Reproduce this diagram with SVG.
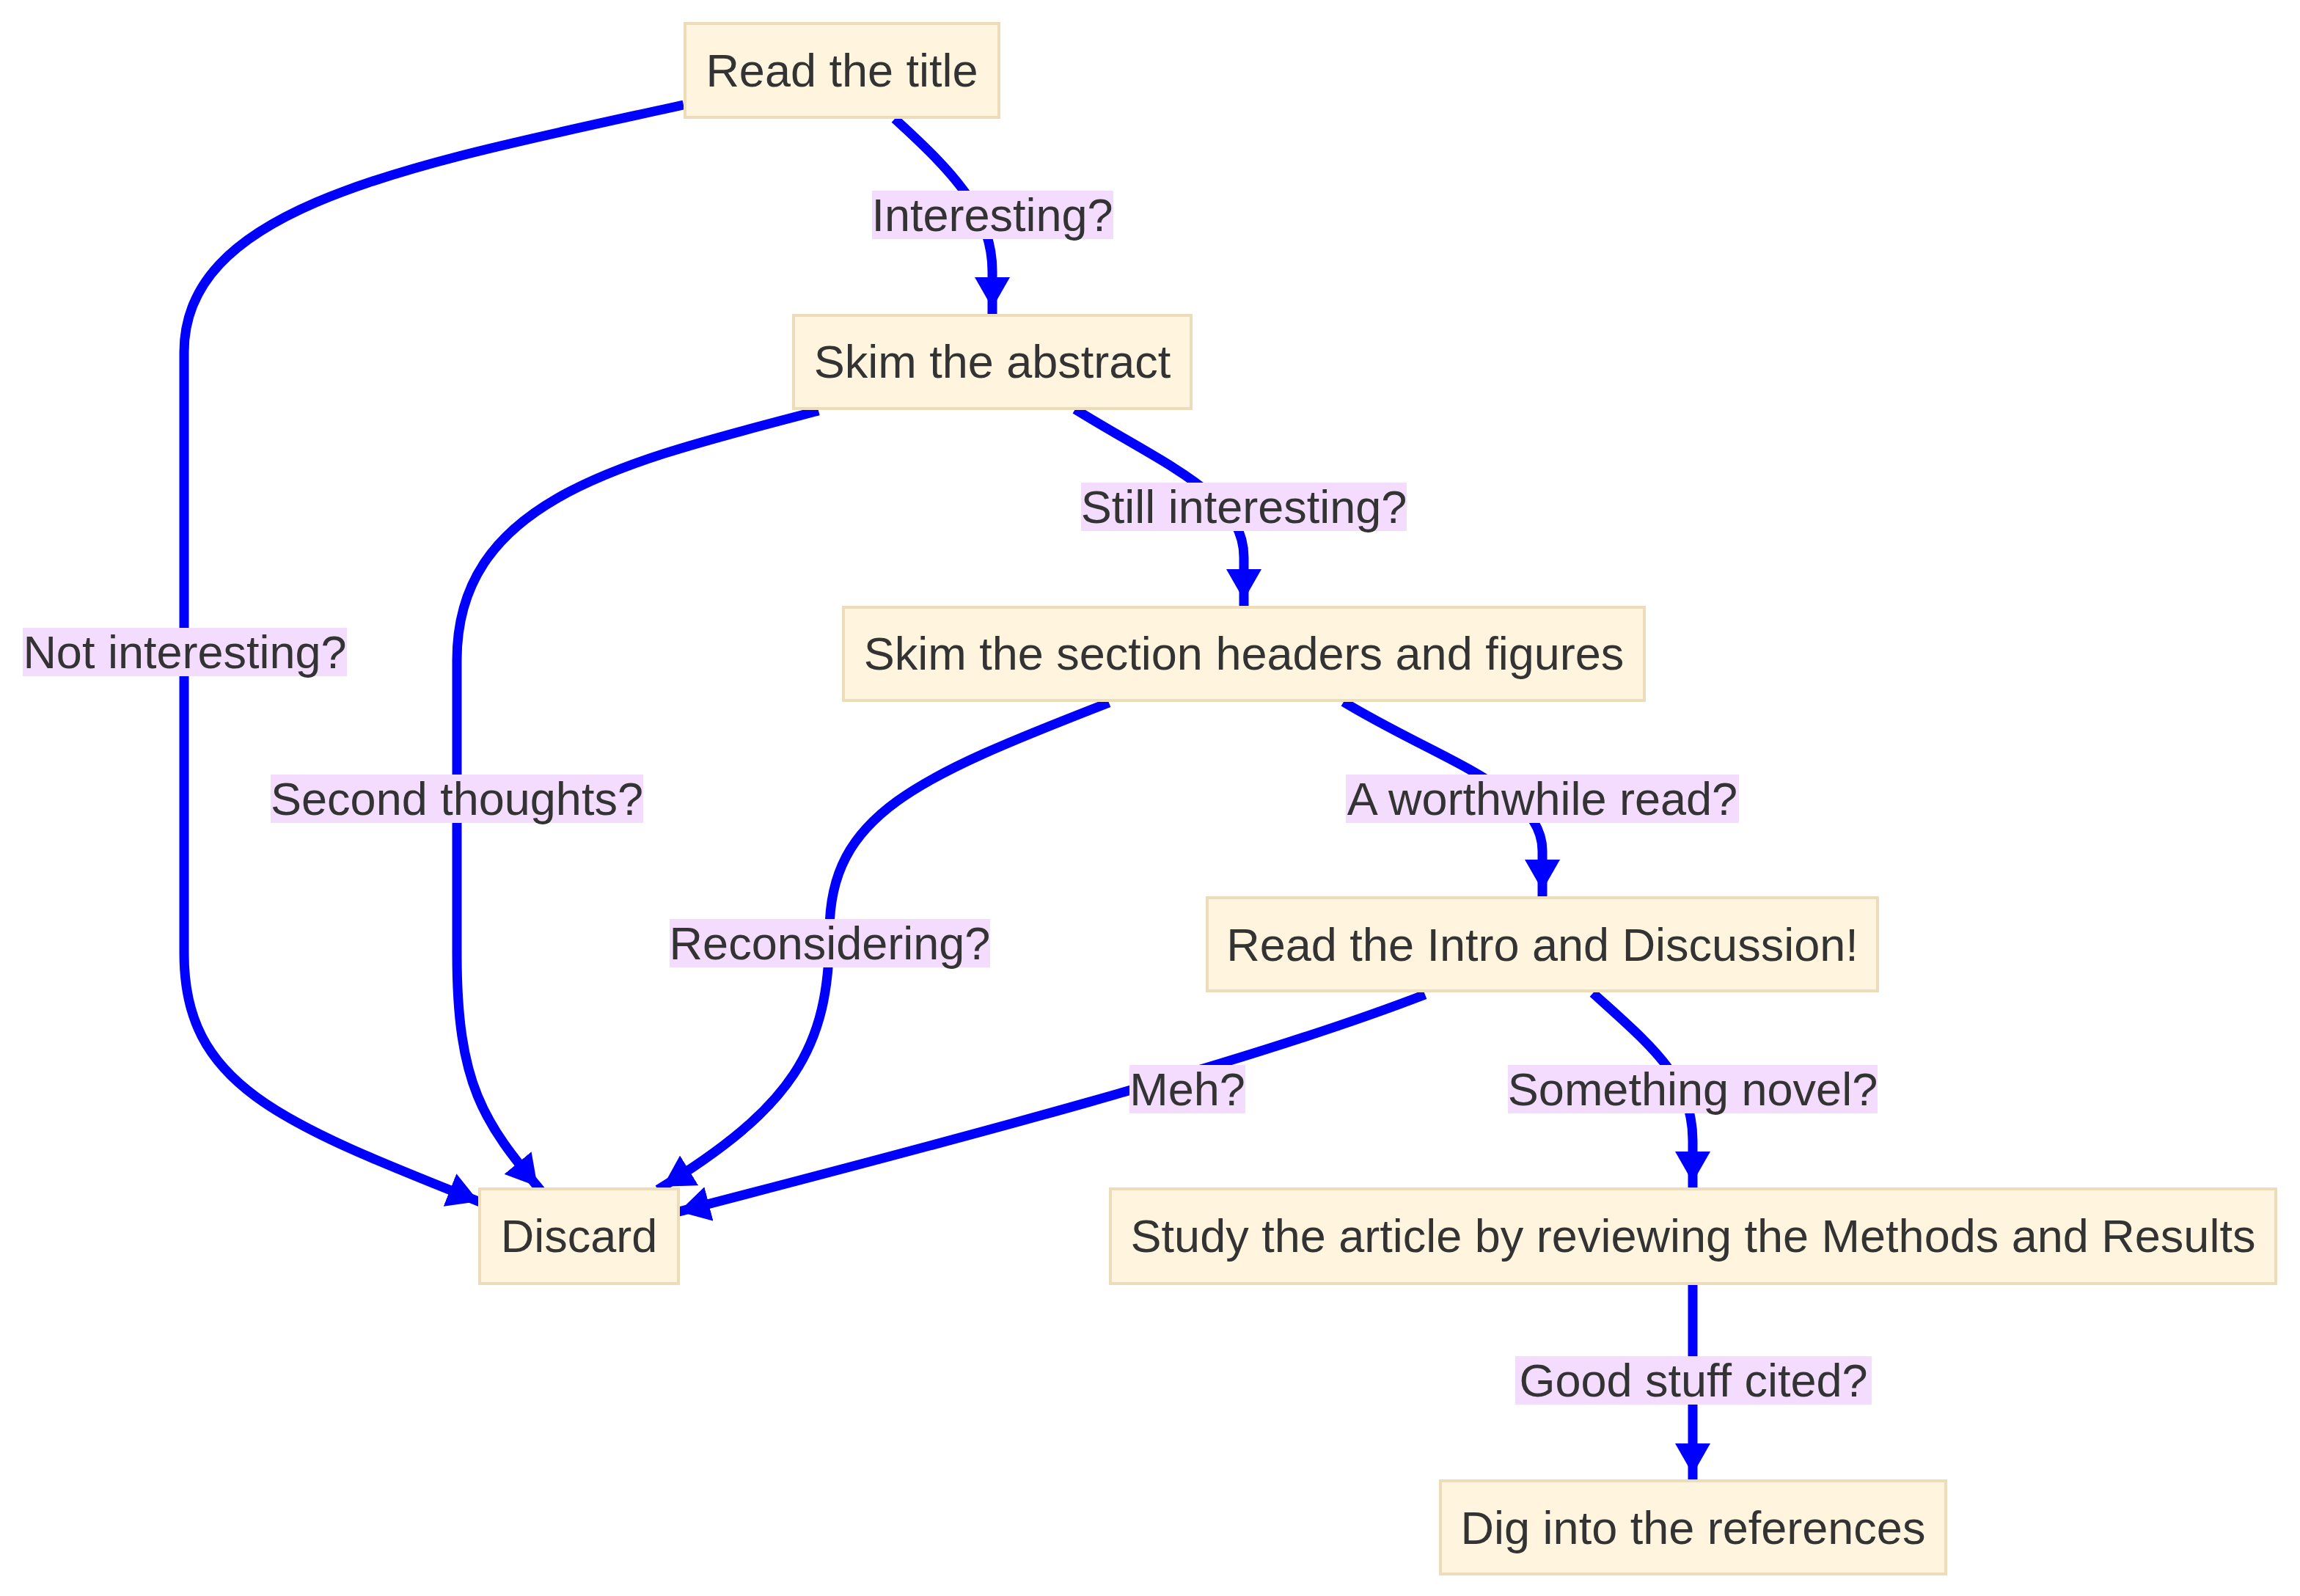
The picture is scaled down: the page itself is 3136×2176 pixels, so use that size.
<svg xmlns="http://www.w3.org/2000/svg" width="3136" height="2176" viewBox="0 0 3136 2176">
<style>
.node rect{fill:#fff4de;stroke:#eddcb9;stroke-width:4}
.node text,.lbl text{font-family:"Liberation Sans",Arial,sans-serif;font-size:63px;fill:#333;text-anchor:middle}
.lbl rect{fill:#f3dcfd}
.edge{fill:none;stroke:#0000ff;stroke-width:13}
</style>
<defs>
<marker id="arrow" viewBox="0 0 42 48" refX="50" refY="24" markerWidth="42" markerHeight="48" markerUnits="userSpaceOnUse" orient="auto">
<path d="M0,0 L42,24 L0,48 z" fill="#0000ff"/>
</marker>
</defs>
<rect width="3136" height="2176" fill="#ffffff"/>
<g id="connectors">
<path class="edge" marker-end="url(#arrow)" d="M1220,162 C1300,235 1353,290 1353,370 L1353,428"/>
<path class="edge" marker-end="url(#arrow)" d="M932,143 C560,225 251,280 251,480 L251,1300 C251,1480 380,1530 660,1641"/>
<path class="edge" marker-end="url(#arrow)" d="M1466,558 C1590,635 1696,675 1696,760 L1696,826"/>
<path class="edge" marker-end="url(#arrow)" d="M1116,560 C850,630 623,680 623,900 L623,1300 C623,1480 660,1530 738,1624"/>
<path class="edge" marker-end="url(#arrow)" d="M1832,957 C1960,1035 2103,1075 2103,1160 L2103,1222"/>
<path class="edge" marker-end="url(#arrow)" d="M1512,958 C1250,1060 1131,1110 1131,1270 C1131,1430 1080,1510 897,1622"/>
<path class="edge" marker-end="url(#arrow)" d="M2172,1354 C2250,1425 2308,1470 2308,1555 L2308,1620"/>
<path class="edge" marker-end="url(#arrow)" d="M1943,1356 C1700,1450 1300,1555 918,1654"/>
<path class="edge" marker-end="url(#arrow)" d="M2308,1752 L2308,2018"/>
</g>
<g id="edge-labels">
<g class="lbl"><rect x="1189" y="260" width="329" height="66"/><text x="1353" y="315">Interesting?</text></g>
<g class="lbl"><rect x="31" y="856" width="442" height="66"/><text x="252" y="911">Not interesting?</text></g>
<g class="lbl"><rect x="1474" y="658" width="444" height="66"/><text x="1696" y="713">Still interesting?</text></g>
<g class="lbl"><rect x="369" y="1056" width="508" height="66"/><text x="623" y="1111">Second thoughts?</text></g>
<g class="lbl"><rect x="1835" y="1056" width="536" height="66"/><text x="2103" y="1111">A worthwhile read?</text></g>
<g class="lbl"><rect x="913" y="1253" width="437" height="66"/><text x="1131.5" y="1308">Reconsidering?</text></g>
<g class="lbl"><rect x="1540" y="1452" width="158" height="66"/><text x="1619" y="1507">Meh?</text></g>
<g class="lbl"><rect x="2056" y="1452" width="504" height="66"/><text x="2308" y="1507">Something novel?</text></g>
<g class="lbl"><rect x="2066" y="1849" width="486" height="66"/><text x="2309" y="1904">Good stuff cited?</text></g>
</g>
<g id="node-title" class="node"><rect x="934" y="32" width="428" height="128"/><text x="1148" y="118">Read the title</text></g>
<g id="node-abstract" class="node"><rect x="1082" y="430" width="542" height="127"/><text x="1353" y="515">Skim the abstract</text></g>
<g id="node-headers" class="node"><rect x="1150" y="828" width="1092" height="127"/><text x="1696" y="913">Skim the section headers and figures</text></g>
<g id="node-intro" class="node"><rect x="1646" y="1224" width="914" height="127"/><text x="2103" y="1310">Read the Intro and Discussion!</text></g>
<g id="node-study" class="node"><rect x="1514" y="1621" width="1589" height="129"/><text x="2308.5" y="1707">Study the article by reviewing the Methods and Results</text></g>
<g id="node-discard" class="node"><rect x="654" y="1621" width="271" height="129"/><text x="789.5" y="1707">Discard</text></g>
<g id="node-dig" class="node"><rect x="1964" y="2019" width="689" height="127"/><text x="2308.5" y="2105">Dig into the references</text></g>
</svg>
